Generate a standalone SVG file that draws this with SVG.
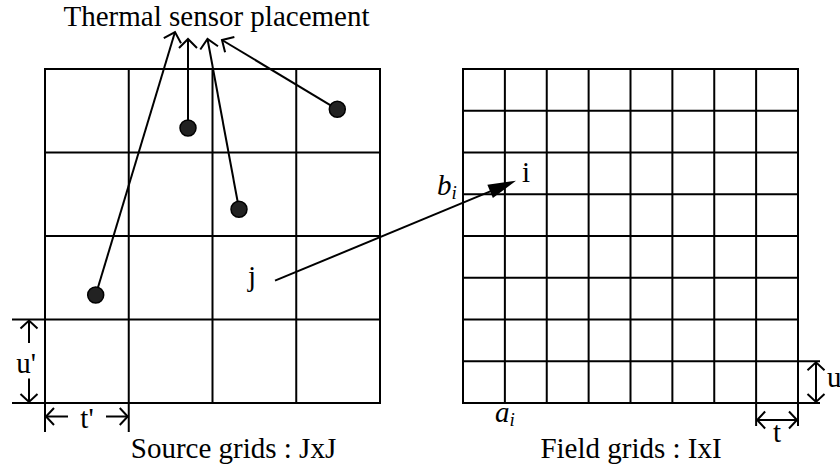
<svg xmlns="http://www.w3.org/2000/svg" width="840" height="472" viewBox="0 0 840 472">
<style>
.g{stroke:#000;stroke-width:2;fill:none}
.ln{stroke:#000;stroke-width:2;fill:none}
.dot{fill:#222;stroke:#000;stroke-width:1.5}
text{font-family:"Liberation Serif","Times New Roman",serif;font-size:29px;fill:#000}
.it{font-style:italic}
.sub{font-size:19px;font-style:italic}
</style>
<defs>
<marker id="open" markerUnits="userSpaceOnUse" viewBox="-12 -12 14 24" refX="0" refY="0" markerWidth="14" markerHeight="24" orient="auto-start-reverse" overflow="visible">
<path d="M-9,-9 L0,0 L-9,9" fill="none" stroke="#000" stroke-width="2"/>
</marker>
<marker id="dim" markerUnits="userSpaceOnUse" viewBox="-12 -12 14 24" refX="0" refY="0" markerWidth="14" markerHeight="24" orient="auto-start-reverse" overflow="visible">
<path d="M-8,-8.5 L0,0 L-8,8.5" fill="none" stroke="#000" stroke-width="2"/>
</marker>
<marker id="fill" markerUnits="userSpaceOnUse" viewBox="-10 -10 32 20" refX="0" refY="0" markerWidth="32" markerHeight="20" orient="auto" overflow="visible">
<path d="M20,0 L-8,-7.2 L-8,7.2 Z" fill="#000"/>
</marker>
</defs>

<g id="source-grid">
<rect class="g" x="45" y="69" width="335" height="334"/>
<path class="g" d="M128.75,69V403M212.5,69V403M296.25,69V403M45,152.5H380M45,236H380M45,319.5H380"/>
</g>

<g id="field-grid">
<rect class="g" x="463" y="69" width="335" height="334"/>
<path class="g" d="M504.875,69V403M546.75,69V403M588.625,69V403M630.5,69V403M672.375,69V403M714.25,69V403M756.125,69V403M463,110.75H798M463,152.5H798M463,194.25H798M463,236H798M463,277.75H798M463,319.5H798M463,361.25H798"/>
</g>

<g id="connectors">
<line class="ln" x1="95.7" y1="295" x2="175" y2="32" marker-end="url(#open)"/>
<line class="ln" x1="188" y1="128" x2="188" y2="39" marker-end="url(#open)"/>
<line class="ln" x1="239" y1="209" x2="207.5" y2="39" marker-end="url(#open)"/>
<line class="ln" x1="337.3" y1="109.3" x2="222" y2="40" marker-end="url(#open)"/>
<line class="ln" x1="275" y1="280.7" x2="497.5" y2="188.4" marker-end="url(#fill)"/>
</g>

<g id="sensor-1"><circle class="dot" cx="337.3" cy="109.3" r="8"/></g>
<g id="sensor-2"><circle class="dot" cx="188" cy="128" r="8"/></g>
<g id="sensor-3"><circle class="dot" cx="239" cy="209.3" r="8"/></g>
<g id="sensor-4"><circle class="dot" cx="95.7" cy="295" r="8"/></g>

<g id="dim-u-prime">
<path class="ln" d="M12,319.5H45M12,403H45"/>
<line class="ln" x1="29" y1="343" x2="29" y2="320.5" marker-end="url(#dim)"/>
<line class="ln" x1="29" y1="378.5" x2="29" y2="402" marker-end="url(#dim)"/>
<text x="26" y="373" text-anchor="middle">u'</text>
</g>
<g id="dim-t-prime">
<path class="ln" d="M45,403V432M128.75,403V432"/>
<line class="ln" x1="68" y1="416.5" x2="46" y2="416.5" marker-end="url(#dim)"/>
<line class="ln" x1="106" y1="416.5" x2="127.75" y2="416.5" marker-end="url(#dim)"/>
<text x="87" y="428" text-anchor="middle">t'</text>
</g>
<g id="dim-u">
<path class="ln" d="M798,361.25H820M798,403H820"/>
<line class="ln" x1="816" y1="362.25" x2="816" y2="402" marker-start="url(#dim)" marker-end="url(#dim)"/>
<text x="827" y="387">u</text>
</g>
<g id="dim-t">
<path class="ln" d="M756.125,403V426M798,403V426"/>
<line class="ln" x1="757.125" y1="420" x2="797" y2="420" marker-start="url(#dim)" marker-end="url(#dim)"/>
<text x="777" y="441.5" text-anchor="middle">t</text>
</g>

<g id="labels">
<text x="216.5" y="25.5" text-anchor="middle">Thermal sensor placement</text>
<text x="252" y="285.5" text-anchor="middle">j</text>
<text x="526" y="181.5" text-anchor="middle">i</text>
<text x="437" y="195" class="it">b<tspan class="sub" dy="4">i</tspan></text>
<text x="495" y="421.5" class="it">a<tspan class="sub" dy="4">i</tspan></text>
<text x="233.5" y="458.3" text-anchor="middle">Source grids : JxJ</text>
<text x="631" y="458.3" text-anchor="middle">Field grids : IxI</text>
</g>
</svg>
